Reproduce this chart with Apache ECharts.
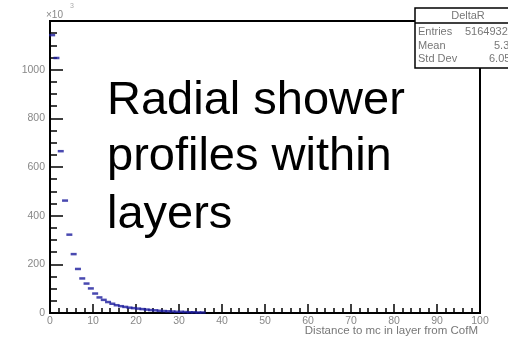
<!DOCTYPE html>
<html>
<head>
<meta charset="utf-8">
<script src="https://cdn.jsdelivr.net/npm/echarts@6/dist/echarts.min.js"></script>
<style>html,body{margin:0;padding:0;background:#fff;}#c{width:508px;height:338px;}</style>
</head>
<body>
<div id="c"></div>
<script>
// bin centers (Distance to mc in layer from CofM)
const binCenters = [0.5,1.5,2.5,3.5,4.5,5.5,6.5,7.5,8.5,9.5,10.5,11.5,12.5,13.5,14.5,15.5,16.5,17.5,18.5,19.5,20.5,21.5,22.5,23.5,24.5,25.5,26.5,27.5,28.5,29.5,30.5,31.5,32.5,33.5,34.5,35.5];
// counts in units of 10^3
const counts = [1142,1048,665,462,322,242,181,142,121,101,80,64,54,45,38,32,28,25,22,20,18,16,14,12,11,9,8,7,6,5,5,4,3,3,2,2];
const xTicks = [0,10,20,30,40,50,60,70,80,90,100];
const yTicks = [0,200,400,600,800,1000];
const statsTitle = "DeltaR";
const statsNames = ["Entries","Mean","Std Dev"];
const statsValues = ["5164932","5.341","6.058"];
const noteLines = ["Radial shower","profiles within","layers"];

const chart = echarts.init(document.getElementById('c'));
const font = '"Liberation Sans", Arial, sans-serif';
const option = {
  animation: false,
  grid: {left: 50, top: 21, right: 28, bottom: 25, show: true, borderColor: '#000', borderWidth: 2, backgroundColor: 'transparent'},
  xAxis: {
    type: 'value', min: xTicks[0], max: xTicks[xTicks.length-1], interval: 10,
    axisLine: {show: true, lineStyle: {color: '#000', width: 2}},
    axisTick: {inside: true, length: 9, lineStyle: {color: '#000', width: 1.5}},
    minorTick: {show: true, splitNumber: 5, length: 5, lineStyle: {color: '#000', width: 1.5}},
    splitLine: {show: false},
    axisLabel: {fontSize: 10.5, color: '#888', fontFamily: font, margin: 3,
      formatter: v => xTicks.includes(v) ? String(v) : ''}
  },
  yAxis: {
    type: 'value', min: 0, max: 1200, interval: 200,
    axisLine: {show: true, lineStyle: {color: '#000', width: 2}},
    axisTick: {inside: true, length: 13, lineStyle: {color: '#000', width: 1.5}},
    minorTick: {show: true, splitNumber: 4, length: 7, lineStyle: {color: '#000', width: 1.5}},
    splitLine: {show: false},
    axisLabel: {fontSize: 10.5, color: '#888', fontFamily: font, margin: 5,
      formatter: v => yTicks.includes(v) ? String(v) : ''}
  },
  series: [{
    type: 'scatter',
    data: binCenters.map((x, i) => [x, counts[i]]),
    symbol: 'rect', symbolSize: [6, 2.5],
    itemStyle: {color: '#1c1c9c'},
    z: 5
  }],
  graphic: [
    {type: 'text', z: 10, style: {x: 46, y: 15, text: '\u00d710', textVerticalAlign: 'middle', font: '10px ' + font, fill: '#888'}},
    {type: 'text', z: 10, style: {x: 70, y: 6, text: '3', textVerticalAlign: 'middle', font: '7px ' + font, fill: '#aaa'}},
    {type: 'text', z: 10, style: {x: 478, y: 331, text: 'Distance to mc in layer from CofM', textAlign: 'right', textVerticalAlign: 'middle', font: '11.5px ' + font, fill: '#777'}},
    {type: 'rect', z: 20, shape: {x: 415, y: 8, width: 110, height: 60}, style: {fill: '#fff', stroke: '#000', lineWidth: 1.5}},
    {type: 'line', z: 21, shape: {x1: 415, y1: 23, x2: 525, y2: 23}, style: {stroke: '#000', lineWidth: 1.5}},
    {type: 'text', z: 22, style: {x: 468, y: 15.5, text: statsTitle, textAlign: 'center', textVerticalAlign: 'middle', font: '11px ' + font, fill: '#777'}},
    {type: 'text', z: 22, style: {x: 418, y: 32, text: statsNames[0], textVerticalAlign: 'middle', font: '11px ' + font, fill: '#777'}},
    {type: 'text', z: 22, style: {x: 418, y: 45.5, text: statsNames[1], textVerticalAlign: 'middle', font: '11px ' + font, fill: '#777'}},
    {type: 'text', z: 22, style: {x: 418, y: 59, text: statsNames[2], textVerticalAlign: 'middle', font: '11px ' + font, fill: '#777'}},
    {type: 'text', z: 22, style: {x: 465, y: 32, text: statsValues[0], textVerticalAlign: 'middle', font: '11px ' + font, fill: '#777'}},
    {type: 'text', z: 22, style: {x: 494, y: 45.5, text: statsValues[1], textVerticalAlign: 'middle', font: '11px ' + font, fill: '#777'}},
    {type: 'text', z: 22, style: {x: 489, y: 59, text: statsValues[2], textVerticalAlign: 'middle', font: '11px ' + font, fill: '#777'}},
    {type: 'text', z: 22, style: {x: 107, y: 101, text: noteLines[0], textVerticalAlign: 'middle', font: '47px ' + font, fill: '#000'}},
    {type: 'text', z: 22, style: {x: 107, y: 157, text: noteLines[1], textVerticalAlign: 'middle', font: '47px ' + font, fill: '#000'}},
    {type: 'text', z: 22, style: {x: 107, y: 215, text: noteLines[2], textVerticalAlign: 'middle', font: '47px ' + font, fill: '#000'}}
  ]
};
chart.setOption(option);
</script>
</body>
</html>
